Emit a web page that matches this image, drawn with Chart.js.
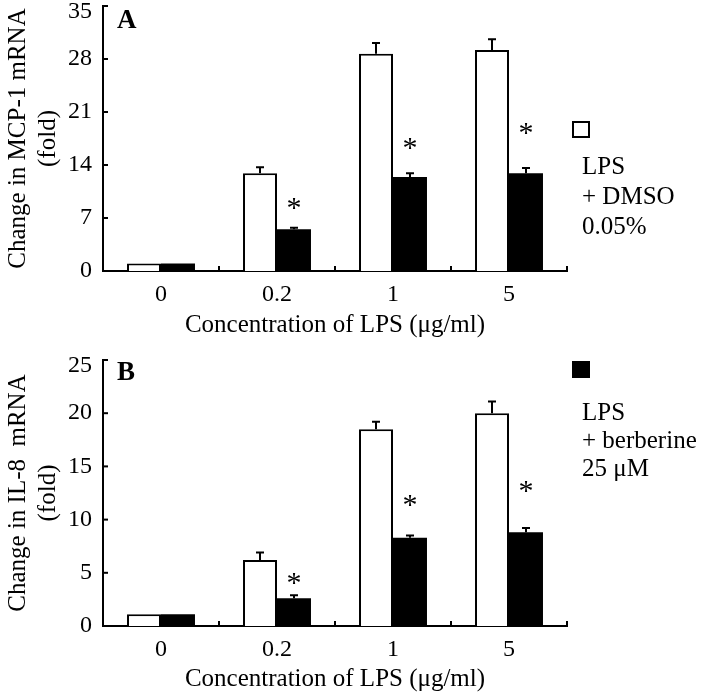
<!DOCTYPE html>
<html>
<head>
<meta charset="utf-8">
<script src="https://cdn.jsdelivr.net/npm/chart.js@4.4.0/dist/chart.umd.min.js"></script>
<style>
    body { margin: 0; background: #fff; }
    canvas { display: block; }
</style>
</head>
<body>
<canvas id="chartA" width="704" height="345"></canvas>
<canvas id="chartB" width="704" height="354"></canvas>
<script>
const categories = ['0', '0.2', '1', '5'];

// painel A - MCP-1
const mcpDmso = [1, 12.9, 28.7, 29.2];
const mcpDmsoErr = [0, 0.8, 1.4, 1.4];
const mcpBerb = [1, 5.5, 12.4, 12.9];
const mcpBerbErr = [0, 0.2, 0.5, 0.7];
const mcpStars = [null, 9.0, 16.9, 18.9];

// painel B - IL-8
const il8Dmso = [1.1, 6.2, 18.5, 20.0];
const il8DmsoErr = [0, 0.7, 0.7, 1.1];
const il8Berb = [1.1, 2.6, 8.3, 8.8];
const il8BerbErr = [0, 0.3, 0.2, 0.4];
const il8Stars = [null, 4.5, 11.8, 13.2];

const serif = "'Times New Roman', 'Liberation Serif', Times, serif";

const extras = {
    id: 'extras',
    afterDatasetsDraw(chart, args, opts) {
        const ctx = chart.ctx;
        const x = chart.scales.x;
        const y = chart.scales.y;
        ctx.save();
        ctx.strokeStyle = '#000';
        ctx.fillStyle = '#000';
        ctx.lineWidth = 2;

        // barras de erro (só a metade de cima)
        chart.data.datasets.forEach((ds, d) => {
            const meta = chart.getDatasetMeta(d);
            meta.data.forEach((bar, i) => {
                const e = ds.err[i];
                if (!e) return;
                const top = y.getPixelForValue(ds.data[i] + e);
                ctx.beginPath();
                ctx.moveTo(bar.x, bar.y);
                ctx.lineTo(bar.x, top);
                ctx.moveTo(bar.x - 4, top);
                ctx.lineTo(bar.x + 4, top);
                ctx.stroke();
            });
        });

        // asteriscos
        ctx.font = '30px ' + serif;
        ctx.textAlign = 'center';
        ctx.textBaseline = 'alphabetic';
        const metaB = chart.getDatasetMeta(1);
        opts.stars.forEach((s, i) => {
            if (s == null) return;
            ctx.fillText('*', metaB.data[i].x, y.getPixelForValue(s) + 14);
        });

        // ticks para dentro
        y.ticks.forEach(t => {
            if (t.value === 0) return;
            const py = y.getPixelForValue(t.value);
            ctx.beginPath();
            ctx.moveTo(x.left, py);
            ctx.lineTo(x.left + 5, py);
            ctx.stroke();
        });
        const half = (x.getPixelForValue(1) - x.getPixelForValue(0)) / 2;
        for (let i = 0; i < categories.length; i++) {
            const bx = x.getPixelForValue(i) + half;
            ctx.beginPath();
            ctx.moveTo(bx, y.bottom);
            ctx.lineTo(bx, y.bottom - 5);
            ctx.stroke();
        }

        // rótulo do topo do eixo y, um pouco abaixo como no original
        ctx.font = '24px ' + serif;
        ctx.textAlign = 'right';
        ctx.textBaseline = 'middle';
        ctx.fillText(String(y.max), x.left - 11, y.getPixelForValue(y.max) + 6);

        // letra do painel
        ctx.font = 'bold 27px ' + serif;
        ctx.textAlign = 'left';
        ctx.textBaseline = 'alphabetic';
        ctx.fillText(opts.letter, x.left + 14, opts.letterY);

        // legenda
        const lg = opts.legend;
        ctx.fillStyle = lg.fill;
        ctx.fillRect(573, lg.boxY, 16, 15);
        ctx.strokeRect(573, lg.boxY, 16, 15);
        ctx.fillStyle = '#000';
        ctx.font = '25px ' + serif;
        ctx.textBaseline = 'middle';
        lg.lines.forEach((txt, k) => {
            ctx.fillText(txt, 582, lg.textY + k * lg.gap);
        });
        ctx.restore();
    }
};

function montaGrafico(id, dmso, dmsoErr, berb, berbErr, max, step, yTitle, topPad, xHeight, extraOpts) {
    return new Chart(document.getElementById(id), {
        type: 'bar',
        data: {
            labels: categories,
            datasets: [
                {
                    label: 'LPS + DMSO 0.05%',
                    data: dmso,
                    err: dmsoErr,
                    backgroundColor: '#fff',
                    borderColor: '#000',
                    borderWidth: 2
                },
                {
                    label: 'LPS + berberine 25 μM',
                    data: berb,
                    err: berbErr,
                    backgroundColor: '#000',
                    borderColor: '#000',
                    borderWidth: 0
                }
            ]
        },
        options: {
            responsive: false,
            animation: false,
            events: [],
            categoryPercentage: 0.586,
            barPercentage: 1.0,
            layout: { padding: { left: 0, top: topPad, right: 137, bottom: 0 } },
            plugins: {
                legend: { display: false },
                tooltip: { enabled: false },
                extras: extraOpts
            },
            scales: {
                x: {
                    offset: true,
                    grid: { display: false, drawTicks: false },
                    border: { display: true, color: '#000', width: 2 },
                    ticks: { color: '#000', font: { family: serif, size: 24 }, padding: 9 },
                    title: {
                        display: true,
                        text: 'Concentration of LPS (μg/ml)',
                        color: '#000',
                        font: { family: serif, size: 25 },
                        padding: { top: 0, bottom: 5 }
                    },
                    afterFit(s) {
                        s.height = xHeight;
                        s.paddingLeft = 0;
                        s.paddingRight = 0;
                    }
                },
                y: {
                    min: 0,
                    max: max,
                    grid: { display: false, drawTicks: false },
                    border: { display: true, color: '#000', width: 2 },
                    ticks: {
                        stepSize: step,
                        color: '#000',
                        font: { family: serif, size: 24 },
                        padding: 11,
                        callback: (v) => v === max ? '' : v
                    },
                    title: {
                        display: true,
                        text: yTitle,
                        color: '#000',
                        font: { family: serif, size: 25, lineHeight: 1.2 },
                        padding: { top: 3, bottom: 0 }
                    },
                    afterFit(s) {
                        s.width = 103;
                        s.paddingTop = 0;
                        s.paddingBottom = 0;
                    }
                }
            }
        },
        plugins: [extras]
    });
}

const chartA = montaGrafico('chartA', mcpDmso, mcpDmsoErr, mcpBerb, mcpBerbErr, 35, 7,
    ['Change in MCP-1 mRNA', '(fold)'], 6, 74, {
        stars: mcpStars,
        letter: 'A',
        letterY: 28,
        legend: { fill: '#fff', boxY: 122, lines: ['LPS', '+ DMSO', '0.05%'], textY: 167, gap: 30 }
    });

const chartB = montaGrafico('chartB', il8Dmso, il8DmsoErr, il8Berb, il8BerbErr, 25, 5,
    ['Change in IL-8  mRNA', '(fold)'], 15, 73, {
        stars: il8Stars,
        letter: 'B',
        letterY: 35,
        legend: { fill: '#000', boxY: 17, lines: ['LPS', '+ berberine', '25 μM'], textY: 68, gap: 28 }
    });
</script>
</body>
</html>
